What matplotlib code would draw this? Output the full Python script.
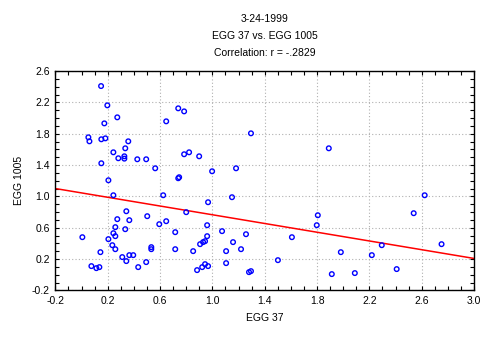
import numpy as np
import matplotlib
matplotlib.use("Agg")
import matplotlib.pyplot as plt
from matplotlib.ticker import FixedLocator, MultipleLocator

plt.rcParams['font.family'] = ['Liberation Sans', 'DejaVu Sans']

title_lines = ["3-24-1999", "EGG 37 vs. EGG 1005", "Correlation: r = -.2829"]
x_label = "EGG 37"
y_label = "EGG 1005"
x_ticks = [-0.2, 0.2, 0.6, 1.0, 1.4, 1.8, 2.2, 2.6, 3.0]
y_ticks = [-0.2, 0.2, 0.6, 1.0, 1.4, 1.8, 2.2, 2.6]

egg37 = [0.149, 0.197, 0.273, 0.174, 0.739, 0.784, 0.647, 0.052, 0.060, 0.151,
         0.182, 0.357, 0.243, 0.334, 0.281, 0.327, 0.327, 0.426, 0.494, 0.151,
         0.563, 0.784, 0.822, 0.899, 1.295, 1.890, 0.998, 1.181, 0.746, 0.739,
         0.205, 0.243, 0.624, 0.967, 0.342, 0.800, 0.502, 0.273, 0.365, 0.594,
         0.647, 0.960, 0.258, 0.334, 0.716, 0.243, 0.258, 0.006, 0.205, 0.960,
         0.944, 0.929, 0.906, 0.235, 0.258, 0.533, 0.533, 0.716, 0.853, 0.144,
         0.311, 0.365, 0.395, 0.342, 0.494, 0.075, 0.113, 0.136, 0.433, 0.944,
         0.922, 0.883, 1.150, 1.806, 1.798, 1.074, 1.257, 1.608, 1.158, 1.105,
         1.219, 1.982, 1.105, 0.967, 1.501, 1.280, 1.295, 1.913, 2.089, 2.623,
         2.539, 2.752, 2.295, 2.219, 2.409]
egg1005 = [2.408, 2.162, 2.009, 1.932, 2.124, 2.085, 1.958, 1.754, 1.703, 1.729,
           1.741, 1.703, 1.563, 1.614, 1.487, 1.512, 1.482, 1.474, 1.474, 1.423,
           1.359, 1.538, 1.563, 1.512, 1.805, 1.614, 1.321, 1.359, 1.245, 1.232,
           1.206, 1.015, 1.015, 0.926, 0.811, 0.799, 0.748, 0.710, 0.697, 0.646,
           0.684, 0.633, 0.608, 0.582, 0.544, 0.531, 0.493, 0.480, 0.455, 0.493,
           0.429, 0.417, 0.391, 0.378, 0.327, 0.353, 0.327, 0.327, 0.302, 0.289,
           0.226, 0.251, 0.251, 0.175, 0.162, 0.111, 0.085, 0.098, 0.098, 0.136,
           0.098, 0.060, 0.990, 0.760, 0.633, 0.557, 0.518, 0.480, 0.417, 0.302,
           0.327, 0.289, 0.149, 0.111, 0.187, 0.034, 0.047, 0.009, 0.022, 1.015,
           0.786, 0.391, 0.378, 0.251, 0.073]

x = np.array(egg37)
y = np.array(egg1005)
slope, intercept = np.polyfit(x, y, 1)

fig = plt.figure(figsize=(4.97, 3.37), dpi=100)
ax = fig.add_axes([0.1115, 0.138, 0.8422, 0.6513])

ax.scatter(x, y, s=11, facecolors='none', edgecolors='#0000ff', linewidths=1.0, zorder=3)
xs = np.array([-0.2, 3.0])
ax.plot(xs, intercept + slope * xs, color='#ff0000', lw=1.1, zorder=2)

ax.set_xlim(-0.2, 3.0)
ax.set_ylim(-0.2, 2.6)
ax.xaxis.set_major_locator(FixedLocator(x_ticks))
ax.yaxis.set_major_locator(FixedLocator(y_ticks))
ax.xaxis.set_minor_locator(MultipleLocator(0.1))
ax.yaxis.set_minor_locator(MultipleLocator(0.1))
ax.xaxis.set_major_formatter(plt.FuncFormatter(lambda v, p: f"{v:.1f}"))
ax.yaxis.set_major_formatter(plt.FuncFormatter(lambda v, p: f"{v:.1f}"))
ax.tick_params(which='both', direction='in', top=True, right=True, length=3, width=0.8,
               labelsize=7.5, pad=4)
ax.grid(True, which='major', color='#b0b0b0', linestyle=(0, (1, 2)), lw=0.8)
for sp in ax.spines.values():
    sp.set_linewidth(1.0)

ax.set_xlabel(x_label, fontsize=7.5, labelpad=5)
ax.set_ylabel(y_label, fontsize=7.5, labelpad=6)
for i, line in enumerate(title_lines):
    fig.text(0.532, 1 - (19 + 17 * i) / 337, line, ha='center', va='center', fontsize=7.5)

fig.savefig("out.png", dpi=100)
